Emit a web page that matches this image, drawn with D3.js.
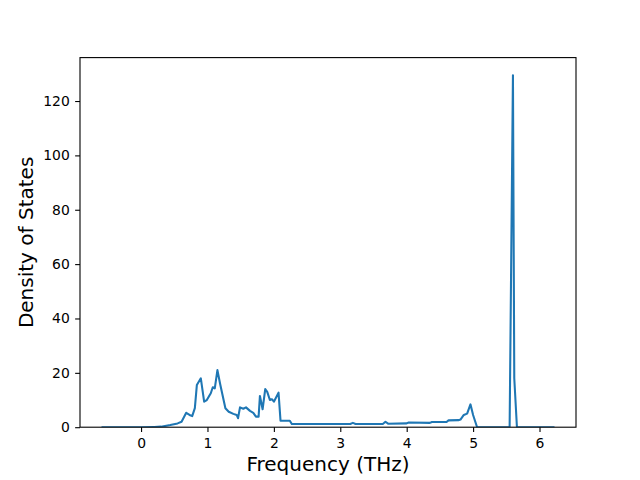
<!DOCTYPE html>
<html><head><meta charset="utf-8">
<script src="https://cdn.jsdelivr.net/npm/d3@7"></script>
<style>body{margin:0;background:#fff}svg{display:block}text{font-family:"DejaVu Sans",sans-serif}</style>
</head><body><svg id="c" width="640" height="480"></svg>
<script>
const freq = [-0.58,0.0,0.2,0.3,0.44,0.55,0.61,0.68,0.73,0.77,0.81,0.84,0.90,0.95,0.99,1.05,1.08,1.11,1.15,1.19,1.27,1.32,1.39,1.44,1.46,1.49,1.54,1.58,1.64,1.69,1.73,1.77,1.79,1.83,1.87,1.90,1.94,1.97,2.00,2.07,2.10,2.24,2.27,3.15,3.19,3.23,3.64,3.68,3.72,4.00,4.03,4.35,4.38,4.60,4.63,4.78,4.81,4.86,4.91,4.96,5.00,5.06,5.55,5.60,5.62,5.66,6.21];
const dos = [0,0,0.1,0.2,0.8,1.4,2.0,5.3,4.5,4.1,7,15.5,18,9.4,10,12.5,14.7,14.3,21,16,7,5.7,4.9,4.5,3.3,7.3,6.8,7.3,6,5.3,3.9,3.9,11.5,6.6,14,13,10,10.3,9.4,12.7,2.4,2.4,1.2,1.2,1.6,1.2,1.2,2.0,1.3,1.4,1.7,1.6,1.9,1.9,2.5,2.6,2.8,4.5,5,8.4,4.5,0,0,129.5,18,0,0];
const xTicks = [0,1,2,3,4,5,6];
const yTicks = [0,20,40,60,80,100,120];
const xLabel = "Frequency (THz)";
const yLabel = "Density of States";

const L=80, R=576, T=57.6, B=427.2;
const svg = d3.select("#c");
const xmin=d3.min(freq), xmax=d3.max(freq), pad=(xmax-xmin)*0.05;
const x = d3.scaleLinear().domain([xmin-pad, xmax+pad]).range([L,R]);
const y = d3.scaleLinear().domain([0, d3.max(dos)*1.05]).range([B,T]);

const data = freq.map((f,i)=>({f, d:dos[i]}));
svg.append("defs").append("clipPath").attr("id","clip").append("rect").attr("x",L).attr("y",T).attr("width",R-L).attr("height",B-T);
svg.append("path").datum(data).attr("clip-path","url(#clip)")
  .attr("fill","none").attr("stroke","#1f77b4").attr("stroke-width",2.08).attr("stroke-linejoin","round").attr("stroke-linecap","square")
  .attr("d", d3.line().x(p=>x(p.f)).y(p=>y(p.d)));

const xa = svg.append("g").attr("transform",`translate(0,${B})`)
  .call(d3.axisBottom(x).tickValues(xTicks).tickFormat(d3.format("d")).tickSize(4.86).tickPadding(5.9));
const ya = svg.append("g").attr("transform",`translate(${L},0)`)
  .call(d3.axisLeft(y).tickValues(yTicks).tickFormat(d3.format("d")).tickSize(4.86).tickPadding(5.4));
[xa,ya].forEach(g=>{
  g.select(".domain").remove();
  g.selectAll("line").attr("stroke","#000").attr("stroke-width",1.1);
  g.selectAll("text").attr("font-size","13.9px").attr("fill","#000").attr("font-family","DejaVu Sans");
});
svg.append("rect").attr("x",L).attr("y",T).attr("width",R-L).attr("height",B-T)
  .attr("fill","none").attr("stroke","#000").attr("stroke-width",1.1);

svg.append("text").attr("x",(L+R)/2).attr("y",470.5).attr("text-anchor","middle")
  .attr("font-size","20px").text(xLabel);
svg.append("text").attr("transform",`translate(33,${(T+B)/2}) rotate(-90)`).attr("text-anchor","middle")
  .attr("font-size","20px").text(yLabel);
</script></body></html>
